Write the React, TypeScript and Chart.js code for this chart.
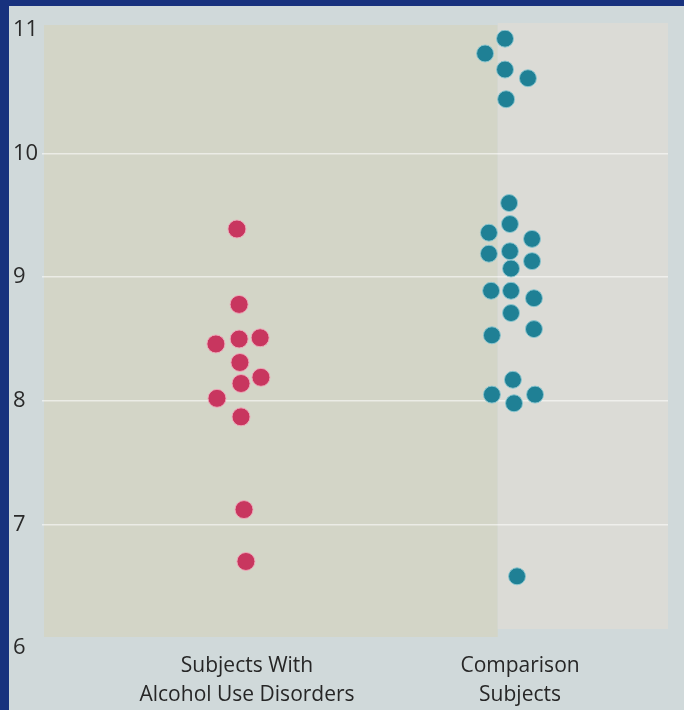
import React, { useEffect, useRef } from "react";
import { Chart, registerables } from "chart.js";

Chart.register(...registerables);

// Category labels (x = 0 and x = 1)
const categories: string[][] = [
  ["Subjects With", "Alcohol Use Disorders"],
  ["Comparison", "Subjects"],
];

// Y tick values
const yTicks = [6, 7, 8, 9, 10, 11];

// Subjects with alcohol use disorders
const audValues = [9.39, 8.78, 8.46, 8.5, 8.51, 8.31, 8.14, 8.19, 8.02, 7.87, 7.12, 6.7];
const audJitter = [-0.037, -0.029, -0.114, -0.029, 0.048, -0.026, -0.022, 0.051, -0.11, -0.022, -0.011, -0.004];

// Comparison subjects
const compValues = [
  10.93, 10.81, 10.68, 10.61, 10.44, 9.6, 9.43, 9.36, 9.31, 9.19, 9.21, 9.07, 9.13,
  8.89, 8.89, 8.83, 8.71, 8.58, 8.53, 8.17, 8.05, 7.98, 8.05, 6.58,
];
const compJitter = [
  -0.055, -0.128, -0.055, 0.029, -0.051, -0.04, -0.037, -0.114, 0.044, -0.114, -0.037, -0.033, 0.044,
  -0.106, -0.033, 0.051, -0.033, 0.051, -0.103, -0.026, -0.103, -0.022, 0.055, -0.011,
];

const FONT = "'Open Sans', 'DejaVu Sans', sans-serif";

const backgroundPlugin = {
  id: "plotBackground",
  beforeDraw(chart: any) {
    const { ctx, chartArea } = chart;
    const { left, right, top, bottom } = chartArea;
    const w = right - left;
    const split = left + w * 0.728;
    ctx.save();
    ctx.fillStyle = "#d3d5c7";
    ctx.fillRect(left + 2, top - 5, split - left - 2, bottom - top - 6);
    ctx.fillStyle = "#dbdbd6";
    ctx.fillRect(split, top - 7, right - split, bottom - top - 12);
    ctx.restore();
  },
};

export default function App() {
  const canvasRef = useRef<HTMLCanvasElement | null>(null);

  useEffect(() => {
    if (!canvasRef.current) return;
    const chart = new Chart(canvasRef.current, {
      type: "scatter",
      data: {
        datasets: [
          {
            label: "Subjects With Alcohol Use Disorders",
            data: audValues.map((v, i) => ({ x: 0 + audJitter[i], y: v })),
            backgroundColor: "#c8365f",
            borderColor: "rgba(238,170,186,0.95)",
            borderWidth: 1,
            pointRadius: 9,
          },
          {
            label: "Comparison Subjects",
            data: compValues.map((v, i) => ({ x: 1 + compJitter[i], y: v })),
            backgroundColor: "#1f8095",
            borderColor: "rgba(140,198,208,0.95)",
            borderWidth: 1,
            pointRadius: 8.5,
          },
        ],
      },
      options: {
        animation: false,
        responsive: false,
        maintainAspectRatio: false,
        layout: { padding: { left: 13, right: 16, top: 30, bottom: 0 } },
        plugins: {
          legend: { display: false },
          tooltip: { enabled: false },
        },
        scales: {
          x: {
            type: "linear",
            min: -0.751,
            max: 1.542,
            afterBuildTicks: (scale: any) => {
              scale.ticks = [{ value: 0 }, { value: 1 }];
            },
            afterFit: (scale: any) => {
              scale.height = 62;
            },
            ticks: {
              callback: (value: any) => categories[Math.round(Number(value))] ?? "",
              font: { family: FONT, size: 21, lineHeight: 1.4 },
              color: "#262626",
              padding: 3,
              maxRotation: 0,
              autoSkip: false,
            },
            grid: { display: false, drawTicks: false },
            border: { display: false },
          },
          y: {
            min: 6,
            max: 11,
            afterBuildTicks: (scale: any) => {
              scale.ticks = yTicks.map((v) => ({ value: v }));
            },
            afterFit: (scale: any) => {
              scale.width = 29;
            },
            ticks: {
              font: { family: FONT, size: 22 },
              color: "#2a2a2a",
              crossAlign: "far",
              padding: 0,
            },
            grid: {
              drawTicks: false,
              color: (c: any) =>
                c.tick && (c.tick.value === 6 || c.tick.value === 11)
                  ? "rgba(0,0,0,0)"
                  : "rgba(255,255,255,0.55)",
              lineWidth: 1.5,
            },
            border: { display: false },
          },
        },
      },
      plugins: [backgroundPlugin],
    });
    return () => chart.destroy();
  }, []);

  return (
    <div
      style={{
        position: "absolute",
        left: 0,
        top: 0,
        width: 684,
        height: 710,
        background: "#18327e",
        overflow: "hidden",
      }}
    >
      <div
        style={{
          position: "absolute",
          left: 9,
          top: 6,
          width: 675,
          height: 704,
          background: "#d0d9da",
        }}
      />
      <canvas
        ref={canvasRef}
        width={684}
        height={710}
        style={{ position: "absolute", left: 0, top: 0, width: 684, height: 710 }}
      />
    </div>
  );
}
